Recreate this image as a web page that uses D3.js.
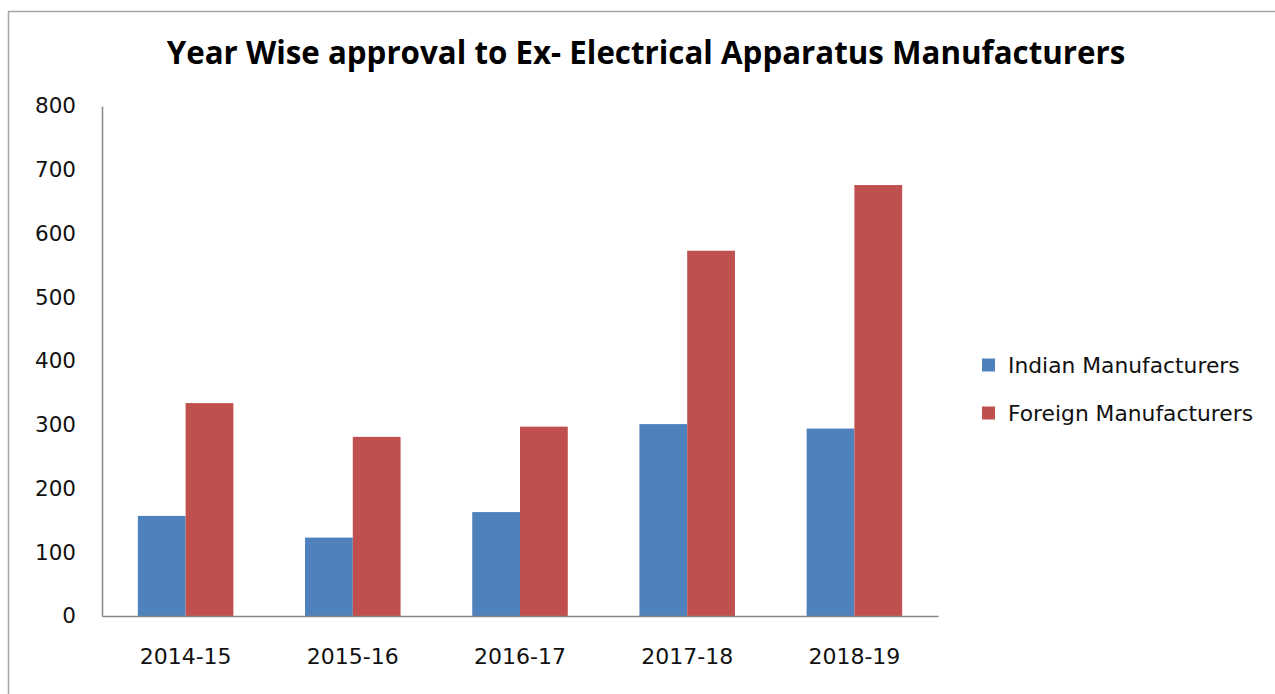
<!DOCTYPE html>
<html>
<head>
<meta charset="utf-8">
<script src="https://cdn.jsdelivr.net/npm/d3@7"></script>
<style>
  html, body { margin: 0; padding: 0; background: #fff; }
  svg { display: block; }
</style>
</head>
<body>
<svg id="chart" width="1275" height="694"></svg>
<script>
const title = "Year Wise approval to Ex- Electrical Apparatus Manufacturers";
const categories = ["2014-15", "2015-16", "2016-17", "2017-18", "2018-19"];
const seriesNames = ["Indian Manufacturers", "Foreign Manufacturers"];
const indianValues = [157, 123, 163, 301, 294];
const foreignValues = [334, 281, 297, 573, 676];
const yTicks = [0, 100, 200, 300, 400, 500, 600, 700, 800];
const colors = ["#4F81BD", "#C0504D"];

const svg = d3.select("#chart");
const W = 1275, H = 694;
const plot = { left: 102, right: 938, top: 106, bottom: 616 };

// outer frame
svg.append("rect")
  .attr("x", 8.5).attr("y", 11.5)
  .attr("width", W + 20).attr("height", H + 20)
  .attr("fill", "#fff")
  .attr("stroke", "#a6a6a6").attr("stroke-width", 1.5);

// title
svg.append("text")
  .attr("x", 646).attr("y", 64)
  .attr("text-anchor", "middle")
  .style("font-family", "'Open Sans', Lato, sans-serif")
  .style("font-weight", 700)
  .style("font-size", "31.3px")
  .attr("fill", "#000")
  .text(title);

const x0 = d3.scaleBand().domain(categories).range([plot.left, plot.right]).paddingInner(0).paddingOuter(0);
const groupW = x0.bandwidth() * 2 / 3.5;
const x1 = d3.scaleBand().domain(seriesNames).range([0, groupW]).padding(0);
const y = d3.scaleLinear().domain([0, 800]).range([plot.bottom, plot.top]);

const data = categories.map((c, i) => ({ cat: c, vals: [indianValues[i], foreignValues[i]] }));

const groups = svg.append("g").selectAll("g")
  .data(data).join("g")
  .attr("transform", d => `translate(${x0(d.cat) + (x0.bandwidth() - groupW) / 2},0)`);

groups.selectAll("rect")
  .data(d => d.vals.map((v, j) => ({ name: seriesNames[j], v, j })))
  .join("rect")
  .attr("x", d => x1(d.name))
  .attr("y", d => y(d.v))
  .attr("width", x1.bandwidth())
  .attr("height", d => y(0) - y(d.v))
  .attr("fill", d => colors[d.j]);

// Y axis
const yAxis = d3.axisLeft(y).tickValues(yTicks).tickSize(0).tickPadding(26).tickFormat(d3.format("d"));
const gy = svg.append("g").attr("transform", `translate(${plot.left},0)`).call(yAxis);
gy.select(".domain").attr("stroke", "#868686").attr("stroke-width", 1.5);
gy.selectAll("text")
  .style("font-family", "'DejaVu Sans', sans-serif")
  .style("font-size", "21.5px")
  .attr("fill", "#111");

// X axis
const xAxis = d3.axisBottom(x0).tickSize(0).tickPadding(32);
const gx = svg.append("g").attr("transform", `translate(0,${plot.bottom})`).call(xAxis);
gx.select(".domain").attr("stroke", "#868686").attr("stroke-width", 1.5);
gx.selectAll("text")
  .style("font-family", "'DejaVu Sans', sans-serif")
  .style("font-size", "22px")
  .attr("fill", "#111");

// Legend
const legend = svg.append("g").attr("transform", "translate(982,0)");
const legY = [365, 413];
seriesNames.forEach((n, i) => {
  legend.append("rect")
    .attr("x", 0).attr("y", legY[i] - 6.5)
    .attr("width", 13).attr("height", 13)
    .attr("fill", colors[i]);
  legend.append("text")
    .attr("x", 26).attr("y", legY[i])
    .attr("dy", "0.36em")
    .style("font-family", "'DejaVu Sans', sans-serif")
    .style("font-size", "21.8px")
    .attr("fill", "#111")
    .text(n);
});
</script>
</body>
</html>
